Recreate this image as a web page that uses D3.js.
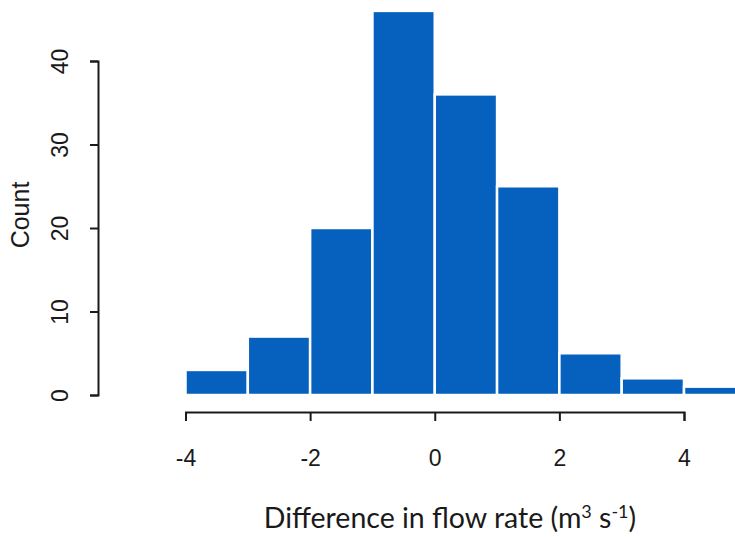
<!DOCTYPE html>
<html>
<head>
<meta charset="utf-8">
<script src="https://cdn.jsdelivr.net/npm/d3@7"></script>
<style>
  body { margin: 0; background: #fff; }
  svg { display: block; }
  .axis text { font-family: "Liberation Sans", Arial, sans-serif; font-size: 23px; fill: #1a1a1a; }
  .axis path, .axis line { stroke: #1a1a1a; stroke-width: 2; }
</style>
</head>
<body>
<div id="chart"></div>
<script>
// histogram bins (lower edges) and counts
var binStarts = [-4, -3, -2, -1, 0, 1, 2, 3, 4];
var counts = [3, 7, 20, 46, 36, 25, 5, 2, 1];
var binWidth = 1;
var xTicks = [-4, -2, 0, 2, 4];
var yTicks = [0, 10, 20, 30, 40];

var W = 735, H = 537;

var svg = d3.select("#chart").append("svg").attr("width", W).attr("height", H);

var x = d3.scaleLinear().domain([-4, 4]).range([185.5, 684]);
var y = d3.scaleLinear().domain([0, 40]).range([395, 61]);

// bars
svg.selectAll("rect.bar").data(binStarts).enter().append("rect")
  .attr("class", "bar")
  .attr("x", function(d) { return x(d); })
  .attr("width", function(d) { return x(d + binWidth) - x(d); })
  .attr("y", function(d, i) { return y(counts[i]); })
  .attr("height", function(d, i) { return y(0) - y(counts[i]); })
  .attr("fill", "#0560BE")
  .attr("stroke", "#fff")
  .attr("stroke-width", 2.5);

// x axis (plain hyphen for minus, like the original)
var xAxis = svg.append("g").attr("class", "axis")
  .attr("transform", "translate(0,412)")
  .call(d3.axisBottom(x).tickValues(xTicks).tickSize(9).tickSizeOuter(9).tickFormat(function(d) { return String(d); }));
xAxis.selectAll("text").attr("y", 54).attr("dy", 0);

// y axis
var yAxis = svg.append("g").attr("class", "axis")
  .attr("transform", "translate(98,0)")
  .call(d3.axisLeft(y).tickValues(yTicks).tickSize(8).tickSizeOuter(8));
yAxis.selectAll("text")
  .attr("x", 0).attr("y", 0).attr("dy", 0)
  .attr("text-anchor", "middle")
  .attr("transform", "translate(-30,0) rotate(-90)");

// axis titles
svg.append("text")
  .attr("transform", "translate(29,215) rotate(-90)")
  .attr("text-anchor", "middle")
  .style("font-family", "'Liberation Sans', Arial, sans-serif")
  .style("font-size", "25px")
  .attr("fill", "#1a1a1a")
  .text("Count");

var xt = svg.append("text")
  .attr("x", 450).attr("y", 528)
  .attr("text-anchor", "middle")
  .style("font-family", "Lato, sans-serif")
  .style("font-size", "28.5px")
  .attr("fill", "#1a1a1a");
xt.append("tspan").text("Difference in flow rate (m");
xt.append("tspan").attr("dy", -10).style("font-size", "18px").text("3");
xt.append("tspan").attr("dy", 10).text(" s");
xt.append("tspan").attr("dy", -10).style("font-size", "18px").text("-1");
xt.append("tspan").attr("dy", 10).text(")");
</script>
</body>
</html>
